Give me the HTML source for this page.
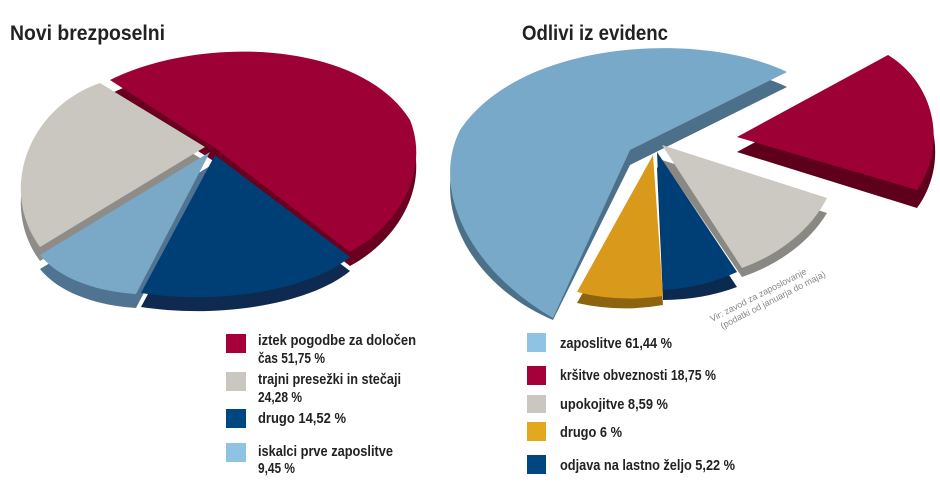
<!DOCTYPE html>
<html><head><meta charset="utf-8"><style>
html,body{margin:0;padding:0;background:#fff;}
svg{display:block;}
text{font-family:"Liberation Sans",sans-serif;font-weight:bold;fill:#222;}
</style></head><body>
<svg width="940" height="504" viewBox="0 0 940 504" xmlns="http://www.w3.org/2000/svg">
<text x="10" y="40" font-size="21" textLength="155" lengthAdjust="spacingAndGlyphs">Novi brezposelni</text>
<text x="522" y="40" font-size="21" textLength="146" lengthAdjust="spacingAndGlyphs">Odlivi iz evidenc</text>

<!-- LEFT PIE sides -->
<g transform="translate(0,14)">
<path d="M205,147 L100,83 C28,108 -2,190 40,247 Z" fill="#8e8c88"/>
<path d="M210,152 L40,255 C60,280 100,292 136,294 Z" fill="#4f7390"/>
<path d="M215,155 L141,293 C220,305 310,290 350,257 Z" fill="#0e2a50"/>
<path d="M215,148 L110,80 C200,35 360,40 410,120 C430,170 400,225 350,252 Z" fill="#6a0020"/>
</g>
<path d="M205,147 L100,83 C28,108 -2,190 40,247 Z" fill="#cac7c0"/>
<path d="M210,152 L40,255 C60,280 100,292 136,294 Z" fill="#7aa8c7"/>
<path d="M215,155 L141,293 C220,305 310,290 350,257 Z" fill="#003f75"/>
<path d="M215,148 L110,80 C200,35 360,40 410,120 C430,170 400,225 350,252 Z" fill="#9c0034"/>

<!-- RIGHT PIE -->
<g transform="translate(0,15)">
<path d="M630,150 L787,72 C700,30 520,40 460,130 C430,190 470,270 553,305 Z" fill="#4c7089"/>
<path d="M737,137 L888,55 A95 95 0 0 1 917,193 Z" fill="#5e001c"/>
<path d="M662,145 L827,198 A170 130 0 0 1 742,262 Z" fill="#8a8883"/>
<path d="M657,152 L737,272 A170 130 0 0 1 663,285 Z" fill="#0c2a50"/>
<path d="M653,155 L577,288 A170 130 0 0 0 663,290 Z" fill="#8c6410"/>
</g>
<path d="M630,150 L787,72 C700,30 520,40 460,130 C430,190 470,270 553,318 Z" fill="#78a9c8"/>
<path d="M737,137 L888,55 A95 95 0 0 1 917,190 Z" fill="#9c0034"/>
<path d="M662,145 L827,198 A170 130 0 0 1 742,268 Z" fill="#cbc9c2"/>
<path d="M657,152 L737,272 A170 130 0 0 1 663,290 Z" fill="#003f75"/>
<path d="M653,155 L577,292 A170 130 0 0 0 663,296 Z" fill="#d99a1c"/>

<g transform="translate(712,322) rotate(-27)" >
<text x="0" y="0" font-size="9" style="font-weight:normal;fill:#888">Vir: zavod za zaposlovanje</text>
<text x="6" y="11" font-size="9" style="font-weight:normal;fill:#888">(podatki od januarja do maja)</text>
</g>

<!-- LEFT LEGEND -->
<rect x="226" y="334" width="20" height="19" fill="#a6003a"/>
<rect x="226" y="372" width="20" height="19" fill="#c9c7bf"/>
<rect x="226" y="409" width="20" height="19" fill="#004680"/>
<rect x="226" y="443" width="20" height="19" fill="#8fc3e3"/>
<g font-size="15">
<text x="258" y="345" textLength="158" lengthAdjust="spacingAndGlyphs">iztek pogodbe za določen</text>
<text x="258" y="363" textLength="67" lengthAdjust="spacingAndGlyphs">čas 51,75 %</text>
<text x="258" y="384" textLength="143" lengthAdjust="spacingAndGlyphs">trajni presežki in stečaji</text>
<text x="258" y="402" textLength="44" lengthAdjust="spacingAndGlyphs">24,28 %</text>
<text x="258" y="423" textLength="88" lengthAdjust="spacingAndGlyphs">drugo 14,52 %</text>
<text x="258" y="456" textLength="135" lengthAdjust="spacingAndGlyphs">iskalci prve zaposlitve</text>
<text x="258" y="473" textLength="37" lengthAdjust="spacingAndGlyphs">9,45 %</text>
</g>

<!-- RIGHT LEGEND -->
<rect x="527" y="333" width="19" height="19" fill="#8fc3e3"/>
<rect x="527" y="366" width="19" height="19" fill="#a6003a"/>
<rect x="527" y="395" width="19" height="18" fill="#c9c7bf"/>
<rect x="527" y="422" width="19" height="19" fill="#e3a81c"/>
<rect x="527" y="455" width="19" height="19" fill="#004680"/>
<g font-size="15">
<text x="560" y="348" textLength="112" lengthAdjust="spacingAndGlyphs">zaposlitve 61,44 %</text>
<text x="560" y="380" textLength="156" lengthAdjust="spacingAndGlyphs">kršitve obveznosti 18,75 %</text>
<text x="560" y="409" textLength="108" lengthAdjust="spacingAndGlyphs">upokojitve 8,59 %</text>
<text x="560" y="437" textLength="62" lengthAdjust="spacingAndGlyphs">drugo 6 %</text>
<text x="560" y="470" textLength="175" lengthAdjust="spacingAndGlyphs">odjava na lastno željo 5,22 %</text>
</g>
</svg>
</body></html>
